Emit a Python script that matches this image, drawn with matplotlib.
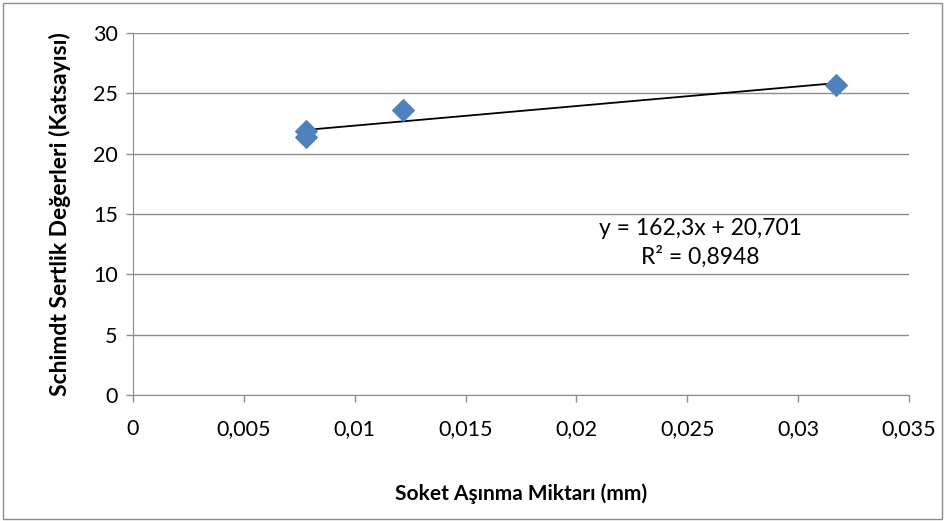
"""Schmidt hardness vs socket wear scatter with linear trendline."""

import numpy as np
import matplotlib.pyplot as plt
from matplotlib.patches import Rectangle

plt.rcParams['font.family'] = ['Lato', 'DejaVu Sans']
plt.rcParams['font.size'] = 15.5

wear = [0.0078, 0.0078, 0.0122, 0.0317]
hardness = [21.9, 21.4, 23.6, 25.7]
slope = 162.3
intercept = 20.701
eq_text = "y = 162,3x + 20,701\nR² = 0,8948"

xticks = [0, 0.005, 0.01, 0.015, 0.02, 0.025, 0.03, 0.035]
xtick_labels = ["0", "0,005", "0,01", "0,015", "0,02", "0,025", "0,03", "0,035"]
yticks = [0, 5, 10, 15, 20, 25, 30]

fig = plt.figure(figsize=(9.45, 5.21), dpi=100)
fig.patches.append(Rectangle((0.003, 0.004), 0.994, 0.99, transform=fig.transFigure,
                             fill=False, edgecolor='#8c8c8c', linewidth=1))
ax = fig.add_axes([133 / 945, 126 / 521, 776 / 945, 362 / 521])

ax.grid(axis='y', color='#8c8c8c', linewidth=1)
ax.set_axisbelow(True)

xfit = np.array([min(wear), max(wear)])
ax.plot(xfit, slope * xfit + intercept, color='black', linewidth=1.3, zorder=2)
ax.scatter(wear, hardness, marker='D', s=120, color='#4f81bd', zorder=3)

ax.set_xlim(0, 0.035)
ax.set_ylim(0, 30)
ax.set_xticks(xticks, xtick_labels)
ax.set_yticks(yticks)
for side in ['top', 'right']:
    ax.spines[side].set_visible(False)
for side in ['left', 'bottom']:
    ax.spines[side].set_color('#8c8c8c')
ax.tick_params(colors='#8c8c8c', labelcolor='black', length=5, width=1)
ax.tick_params(axis='x', pad=12)
ax.tick_params(axis='y', pad=6)

ax.text(0.0256, 12.6, eq_text, ha='center', va='center', fontsize=16.5, linespacing=1.4)

ax.set_xlabel("Soket Aşınma Miktarı (mm)", fontweight='bold', fontsize=15, labelpad=32)
ax.set_ylabel("Schimdt Sertlik Değerleri (Katsayısı)", fontweight='bold', fontsize=16.5,
              labelpad=16)

fig.savefig("out.png", dpi=100)
